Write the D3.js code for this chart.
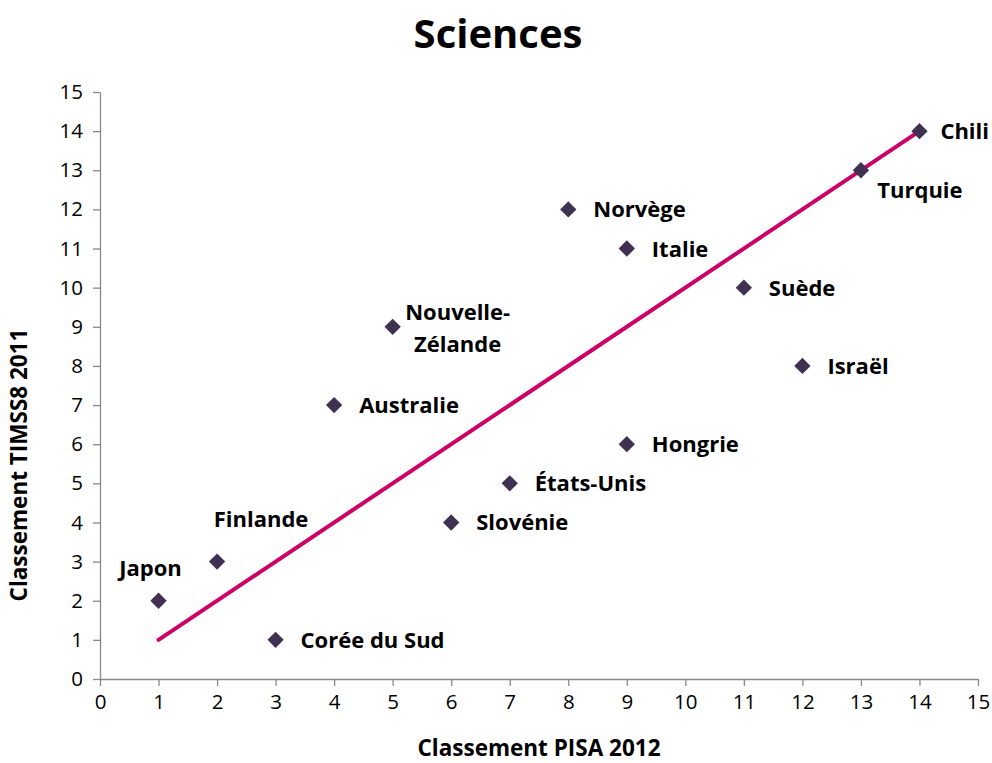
<!DOCTYPE html>
<html>
<head>
<meta charset="utf-8">
<script src="https://cdn.jsdelivr.net/npm/d3@7"></script>
<style>
  body { margin: 0; background: #fff; }
  text { font-family: "Open Sans", sans-serif; fill: #000; }
</style>
</head>
<body>
<div id="chart"></div>
<script>
// Classement PISA 2012 vs TIMSS8 2011 (sciences)
const countries = ["Japon", "Finlande", "Corée du Sud", "Australie", "Nouvelle-Zélande", "Slovénie",
    "États-Unis", "Norvège", "Italie", "Hongrie", "Suède", "Israël", "Turquie", "Chili"];
const pisa = [1, 2, 3, 4, 5, 6, 7, 8, 9, 9, 11, 12, 13, 14];
const timss = [2, 3, 1, 7, 9, 4, 5, 12, 11, 6, 10, 8, 13, 14];
const trendX = [1, 14];
const trendY = [1, 14];
const ticks = d3.range(0, 16);

// where each label sits relative to its point
const labelPlace = ["above", "aboveRight", "right", "right", "twoLine", "right",
    "right", "right", "right", "right", "right", "right", "belowRight", "edge"];

const width = 992;
const height = 763;
const margin = { top: 92, right: 14, bottom: 84, left: 100 };

const svg = d3.select("#chart")
    .append("svg")
    .attr("width", width)
    .attr("height", height);

const x = d3.scaleLinear().domain([0, 15]).range([margin.left, width - margin.right]);
const y = d3.scaleLinear().domain([0, 15]).range([height - margin.bottom, margin.top]);

// axes
const xAxis = svg.append("g")
    .attr("transform", `translate(0,${y(0)})`)
    .call(d3.axisBottom(x).tickValues(ticks).tickSize(7).tickSizeOuter(0).tickPadding(8));
const yAxis = svg.append("g")
    .attr("transform", `translate(${x(0)},0)`)
    .call(d3.axisLeft(y).tickValues(ticks).tickSize(7).tickSizeOuter(0).tickPadding(10));

[xAxis, yAxis].forEach(a => {
    a.selectAll("path, line").attr("stroke", "#888").attr("stroke-width", 1.3);
    a.selectAll("text").attr("font-size", 20.5).attr("fill", "#000")
        .style("font-family", "'Open Sans', sans-serif");
});

// title and axis titles
svg.append("text")
    .attr("x", 498).attr("y", 48)
    .attr("text-anchor", "middle")
    .attr("font-size", 40).attr("font-weight", "bold")
    .text("Sciences");

svg.append("text")
    .attr("x", 539).attr("y", 756)
    .attr("text-anchor", "middle")
    .attr("font-size", 22.5).attr("font-weight", "bold")
    .text("Classement PISA 2012");

svg.append("text")
    .attr("transform", `translate(27,465) rotate(-90)`)
    .attr("text-anchor", "middle")
    .attr("font-size", 22.5).attr("font-weight", "bold")
    .text("Classement TIMSS8 2011");

// trend line
svg.append("line")
    .attr("x1", x(trendX[0])).attr("y1", y(trendY[0]))
    .attr("x2", x(trendX[1])).attr("y2", y(trendY[1]))
    .attr("stroke", "#CC0066")
    .attr("stroke-width", 4)
    .attr("stroke-linecap", "round");

const points = countries.map((name, i) => ({ name, px: pisa[i], ty: timss[i], place: labelPlace[i] }));

// diamond markers
svg.append("g")
    .selectAll("path")
    .data(points)
    .enter().append("path")
    .attr("d", d3.symbol().type(d3.symbolDiamond2).size(170))
    .attr("transform", d => `translate(${x(d.px)},${y(d.ty)})`)
    .attr("fill", "#403152");

// labels
const lbl = svg.append("g")
    .selectAll("text")
    .data(points)
    .enter().append("text")
    .attr("font-size", 22).attr("font-weight", "bold")
    .attr("dominant-baseline", "central");

lbl.each(function(d) {
    const t = d3.select(this);
    const cx = x(d.px), cy = y(d.ty);
    if (d.place === "right") {
        t.attr("x", cx + 25).attr("y", cy - 1).text(d.name);
    } else if (d.place === "edge") {
        t.attr("x", width - 3).attr("y", cy - 1).attr("text-anchor", "end").text(d.name);
    } else if (d.place === "above") {
        t.attr("x", cx - 8).attr("y", cy - 34).attr("text-anchor", "middle").text(d.name);
    } else if (d.place === "aboveRight") {
        t.attr("x", cx + 44).attr("y", cy - 44).attr("text-anchor", "middle").text(d.name);
    } else if (d.place === "belowRight") {
        t.attr("x", cx + 59).attr("y", cy + 19).attr("text-anchor", "middle").text(d.name);
    } else if (d.place === "twoLine") {
        const parts = d.name.split("-");
        t.attr("text-anchor", "middle");
        t.append("tspan").attr("x", cx + 65).attr("y", cy - 16).text(parts[0] + "-");
        t.append("tspan").attr("x", cx + 65).attr("y", cy + 16).text(parts[1]);
    }
});
</script>
</body>
</html>
